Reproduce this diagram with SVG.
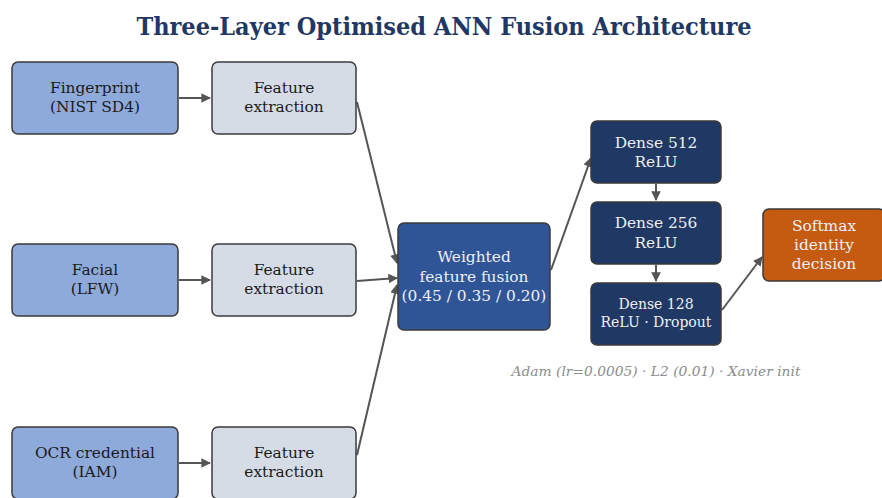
<svg xmlns="http://www.w3.org/2000/svg" width="882" height="498" viewBox="0 0 882 498">
  <defs>
    <marker id="arrow" viewBox="0 0 10 10" refX="9" refY="5" markerWidth="4.8" markerHeight="4.8" orient="auto" markerUnits="strokeWidth">
      <path d="M0,0 L10,5 L0,10 z" fill="#555555"/>
    </marker>
  </defs>
  <style>
    .box { stroke: #3a3a3a; stroke-width: 1.5; }
    .input { fill: #8eaadb; }
    .feat { fill: #d6dce5; }
    .fusion { fill: #2f5597; }
    .dense { fill: #1f3864; }
    .out { fill: #c55a11; }
    text { font-family: "DejaVu Serif", serif; font-size: 15.4px; text-anchor: middle; }
    .dark { fill: #1a1a1a; }
    .light { fill: #eef0f5; }
    .edge { stroke: #555555; stroke-width: 2; fill: none; marker-end: url(#arrow); }
  </style>
  <rect width="882" height="498" fill="#ffffff"/>
  <!-- title: bold serif, narrowed horizontally -->
  <text transform="translate(444,35) scale(0.9,1)" x="0" y="0" style="font-size:25px;font-weight:bold;fill:#1f3864">Three-Layer Optimised ANN Fusion Architecture</text>

  <g id="edges">
    <line class="edge" x1="179" y1="98" x2="210" y2="98"/>
    <line class="edge" x1="179" y1="280" x2="210" y2="280"/>
    <line class="edge" x1="179" y1="463" x2="210" y2="463"/>
    <line class="edge" x1="357" y1="102" x2="397" y2="263"/>
    <line class="edge" x1="357" y1="281" x2="397" y2="278"/>
    <line class="edge" x1="357" y1="455" x2="397" y2="285"/>
    <line class="edge" x1="551" y1="270" x2="591" y2="158"/>
    <line class="edge" x1="656" y1="184" x2="656" y2="200"/>
    <line class="edge" x1="656" y1="265" x2="656" y2="281"/>
    <line class="edge" x1="722" y1="310" x2="762" y2="257"/>
  </g>

  <g id="fingerprint">
    <rect class="box input" x="12" y="62" width="166" height="72" rx="6"/>
    <text class="dark" x="95" y="93">Fingerprint</text>
    <text class="dark" x="95" y="112">(NIST SD4)</text>
  </g>
  <g id="facial">
    <rect class="box input" x="12" y="244" width="166" height="72" rx="6"/>
    <text class="dark" x="95" y="275">Facial</text>
    <text class="dark" x="95" y="294">(LFW)</text>
  </g>
  <g id="ocr">
    <rect class="box input" x="12" y="427" width="166" height="72" rx="6"/>
    <text class="dark" x="95" y="458">OCR credential</text>
    <text class="dark" x="95" y="477">(IAM)</text>
  </g>

  <g id="feat-fingerprint">
    <rect class="box feat" x="212" y="62" width="144" height="72" rx="6"/>
    <text class="dark" x="284" y="93">Feature</text>
    <text class="dark" x="284" y="112">extraction</text>
  </g>
  <g id="feat-facial">
    <rect class="box feat" x="212" y="244" width="144" height="72" rx="6"/>
    <text class="dark" x="284" y="275">Feature</text>
    <text class="dark" x="284" y="294">extraction</text>
  </g>
  <g id="feat-ocr">
    <rect class="box feat" x="212" y="427" width="144" height="72" rx="6"/>
    <text class="dark" x="284" y="458">Feature</text>
    <text class="dark" x="284" y="477">extraction</text>
  </g>

  <g id="fusion">
    <rect class="box fusion" x="398" y="223" width="152" height="107" rx="6"/>
    <text class="light" x="474" y="262">Weighted</text>
    <text class="light" x="474" y="282">feature fusion</text>
    <text class="light" x="474" y="301">(0.45 / 0.35 / 0.20)</text>
  </g>

  <g id="dense512">
    <rect class="box dense" x="591" y="121" width="130" height="62" rx="6"/>
    <text class="light" x="656" y="148">Dense 512</text>
    <text class="light" x="656" y="167">ReLU</text>
  </g>
  <g id="dense256">
    <rect class="box dense" x="591" y="202" width="130" height="62" rx="6"/>
    <text class="light" x="656" y="228">Dense 256</text>
    <text class="light" x="656" y="248">ReLU</text>
  </g>
  <g id="dense128">
    <rect class="box dense" x="591" y="283" width="130" height="62" rx="6"/>
    <text class="light" x="656" y="309" style="font-size:14px">Dense 128</text>
    <text class="light" x="656" y="327" style="font-size:14px">ReLU · Dropout</text>
  </g>

  <g id="softmax">
    <rect class="box out" x="763" y="209" width="122" height="72" rx="6"/>
    <text class="light" x="824" y="231">Softmax</text>
    <text class="light" x="824" y="250">identity</text>
    <text class="light" x="824" y="269">decision</text>
  </g>

  <text x="656" y="376" style="font-size:13.8px;font-style:italic;fill:#8c8c8c">Adam (lr=0.0005) · L2 (0.01) · Xavier init</text>
</svg>
